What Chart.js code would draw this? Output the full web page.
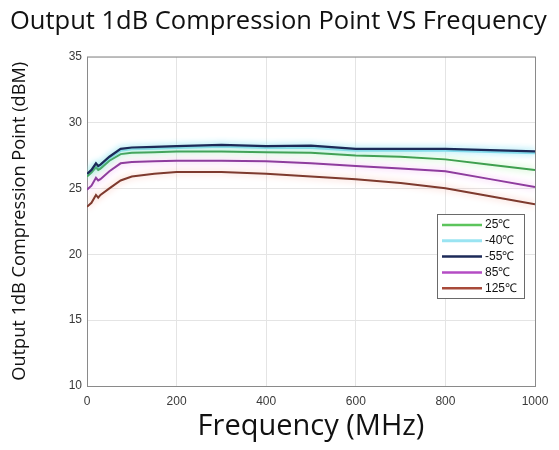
<!DOCTYPE html>
<html>
<head>
<meta charset="utf-8">
<script src="https://cdn.jsdelivr.net/npm/chart.js@4.4.0/dist/chart.umd.min.js"></script>
<style>
html,body{margin:0;padding:0;background:#fff;}
#wrap{width:559px;height:450px;}
</style>
</head>
<body>
<div id="wrap"><canvas id="c" width="559" height="450"></canvas></div>
<script>
const freq = [0, 10, 20, 25, 30, 50, 75, 100, 150, 200, 300, 400, 500, 600, 700, 800, 900, 1000];
const t25  = [25.9, 26.2, 26.6, 26.4, 26.5, 27.1, 27.6, 27.7, 27.75, 27.8, 27.8, 27.75, 27.7, 27.5, 27.4, 27.2, 26.8, 26.4];
const tm40 = [26.0, 26.3, 26.8, 26.6, 26.7, 27.3, 27.9, 28.0, 28.05, 28.1, 28.2, 28.1, 28.1, 27.9, 27.9, 27.9, 27.8, 27.7];
const tm55 = [26.1, 26.4, 26.9, 26.7, 26.8, 27.4, 28.0, 28.1, 28.15, 28.2, 28.3, 28.2, 28.25, 28.0, 28.0, 28.0, 27.9, 27.8];
const t85  = [24.9, 25.2, 25.8, 25.6, 25.7, 26.3, 26.9, 27.0, 27.05, 27.1, 27.1, 27.05, 26.9, 26.7, 26.5, 26.3, 25.7, 25.1];
const t125 = [23.6, 23.9, 24.5, 24.3, 24.5, 25.0, 25.6, 25.9, 26.1, 26.25, 26.25, 26.1, 25.9, 25.7, 25.4, 25.0, 24.4, 23.8];
const seriesLabels = ['25\u2103', '-40\u2103', '-55\u2103', '85\u2103', '125\u2103'];
const seriesValues = [t25, tm40, tm55, t85, t125];
const xTicks = [0, 200, 400, 600, 800, 1000];
const yTicks = [10, 15, 20, 25, 30, 35];

const coreColors = ['#3f9f4f', '#86dcec', '#1c2a58', '#8e3c9e', '#7e3a2e'];
const haloColors = ['#a0eca0', '#b8f0fa', '#80dcf0', '#f0a8f0', '#f6b8ac'];
const legendColors = ['#5cc45c', '#9ae4f2', '#1c2a58', '#b44cc4', '#a84a3a'];
const widths = [2, 3, 2.2, 2, 2];
const drawOrder = [2, 4, 1, 3, 3];

const datasets = seriesLabels.map((lab, i) => ({
  label: lab,
  data: freq.map((f, j) => ({x: f, y: seriesValues[i][j]})),
  borderColor: coreColors[i],
  borderWidth: widths[i],
  pointRadius: 0,
  tension: 0,
  fill: false,
  order: drawOrder[i]
}));

const glowPlugin = {
  id: 'glow',
  beforeDatasetDraw(chart, args) {
    const ctx = chart.ctx;
    ctx.save();
    ctx.shadowColor = haloColors[args.index];
    ctx.shadowBlur = 7;
    ctx.shadowOffsetX = 0;
    ctx.shadowOffsetY = 0;
  },
  afterDatasetDraw(chart) {
    chart.ctx.restore();
  }
};

const boxPlugin = {
  id: 'box',
  beforeDatasetsDraw(chart) {
    const {ctx, chartArea: a} = chart;
    ctx.save();
    ctx.strokeStyle = '#8a8a8a';
    ctx.lineWidth = 1;
    ctx.strokeRect(a.left + 0.5, a.top + 0.5, a.right - a.left, a.bottom - a.top);
    ctx.restore();
  }
};

const legendPlugin = {
  id: 'innerLegend',
  afterDatasetsDraw(chart) {
    const ctx = chart.ctx;
    const bx = 437, by = 214, bw = 87, bh = 84;
    ctx.save();
    ctx.fillStyle = '#ffffff';
    ctx.fillRect(bx, by, bw, bh);
    ctx.strokeStyle = '#6a6a6a';
    ctx.lineWidth = 1;
    ctx.strokeRect(bx + 0.5, by + 0.5, bw, bh);
    ctx.font = '12px "Liberation Sans", Arial, sans-serif';
    ctx.textBaseline = 'middle';
    ctx.textAlign = 'left';
    seriesLabels.forEach((lab, i) => {
      const y = by + 11 + i * 15.8;
      ctx.strokeStyle = legendColors[i];
      ctx.lineWidth = i === 1 ? 3 : 2.5;
      ctx.beginPath();
      ctx.moveTo(bx + 5, y);
      ctx.lineTo(bx + 45, y);
      ctx.stroke();
      ctx.fillStyle = '#111';
      ctx.fillText(lab, bx + 48, y);
    });
    ctx.restore();
  }
};

new Chart(document.getElementById('c'), {
  type: 'line',
  data: {datasets},
  options: {
    responsive: false,
    animation: false,
    layout: {padding: {left: 10, right: 10, top: 0, bottom: 0}},
    plugins: {
      legend: {display: false},
      tooltip: {enabled: false},
      title: {
        display: true,
        text: 'Output 1dB Compression Point VS Frequency',
        align: 'start',
        color: '#111',
        font: {family: '"Open Sans", sans-serif', size: 25.5, weight: 'normal'},
        padding: {top: 6, bottom: 20}
      }
    },
    scales: {
      x: {
        type: 'linear',
        min: 0, max: 1000,
        afterBuildTicks(scale) { scale.ticks = xTicks.map(v => ({value: v})); },
        afterFit(scale) { scale.height = 64; },
        grid: {color: '#e4e4e4', drawTicks: false},
        border: {display: false},
        ticks: {
          color: '#3a3a3a',
          padding: 8,
          maxRotation: 0,
          callback: v => String(v),
          font: {family: '"Liberation Sans", Arial, sans-serif', size: 12}
        },
        title: {
          display: true,
          text: 'Frequency (MHz)',
          color: '#111',
          font: {family: '"Open Sans", sans-serif', size: 29},
          padding: {top: 0, bottom: 6}
        }
      },
      y: {
        type: 'linear',
        min: 10, max: 35,
        afterBuildTicks(scale) { scale.ticks = yTicks.map(v => ({value: v})); },
        afterFit(scale) { scale.width = 77; },
        grid: {color: '#e4e4e4', drawTicks: false},
        border: {display: false},
        ticks: {
          color: '#3a3a3a',
          padding: 5,
          font: {family: '"Liberation Sans", Arial, sans-serif', size: 12}
        },
        title: {
          display: true,
          text: 'Output 1dB Compression Point (dBM)',
          color: '#111',
          font: {family: '"Open Sans", sans-serif', size: 18.2},
          padding: {top: -1, bottom: 0}
        }
      },
      yRight: {
        type: 'linear',
        position: 'right',
        min: 10, max: 35,
        afterFit(scale) { scale.width = 14; },
        grid: {display: false, drawTicks: false},
        border: {display: false},
        ticks: {display: false},
        title: {display: false}
      }
    }
  },
  plugins: [glowPlugin, boxPlugin, legendPlugin]
});
</script>
</body>
</html>
